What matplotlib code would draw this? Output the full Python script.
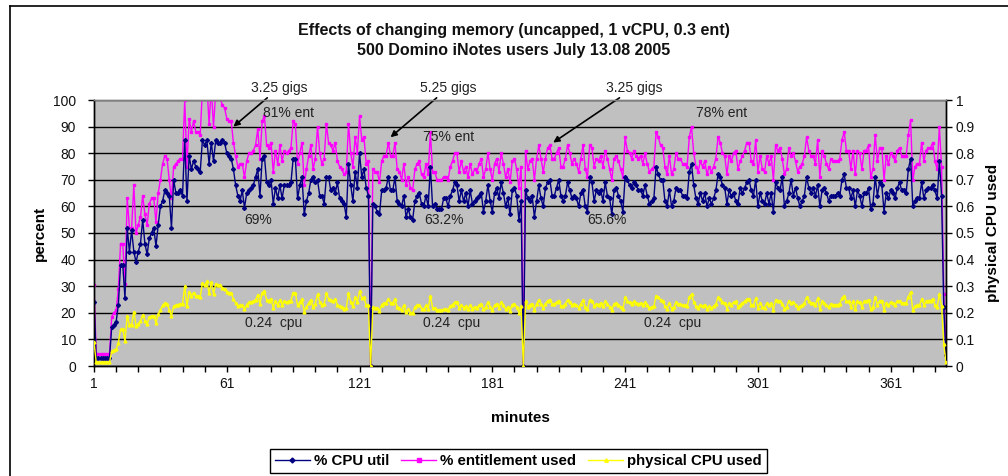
import matplotlib
matplotlib.use("Agg")
import matplotlib.pyplot as plt
from matplotlib.lines import Line2D
import numpy as np

plt.rcParams['font.family'] = ['Liberation Sans', 'DejaVu Sans']

# ---------------- data ----------------
cpu_util = [
    24, 3, 3, 3, 3, 3, 3, 3, 14.5, 15.5,
    16.5, 23, 38, 38, 25.5, 52, 43, 51, 43, 39,
    43, 46, 55, 46, 42, 48, 50, 52, 45, 53,
    60, 62, 66, 65, 64, 52, 70, 65, 65, 66,
    64, 85, 62, 79, 74, 77, 75, 74, 73, 85,
    83, 85, 76, 84, 77, 85, 84, 84, 85, 84,
    80, 79, 78, 74, 68, 64, 62, 66, 59.5, 65,
    66, 67, 68, 71, 74, 64, 78, 79, 69, 68,
    70, 61, 67, 63, 68, 63, 68, 68, 68, 69,
    78, 78, 63, 68, 71, 57, 62, 65, 70,
    # minutes 100-125
    71, 69, 70, 64, 64, 61, 71, 71, 66, 67,
    65, 69, 63, 62, 61, 56, 76, 68, 62, 73,
    67, 80, 71, 74, 67, 64,
    # minute 126 (memory change)
    0,
    # minutes 127-137
    61, 60, 58, 57, 66, 66, 67, 71, 66, 66, 71,
    # minutes 138-194
    62, 61, 60, 64, 56, 59, 56, 55, 62, 64,
    65, 61, 60, 64, 60, 75, 60, 61, 59, 59,
    59, 63, 63, 60, 64, 66, 69, 68, 62, 66,
    62, 65, 60, 66, 61, 62, 63, 64, 65, 58,
    62, 68, 62, 58, 65, 67, 63, 69, 65, 60,
    63, 57, 66, 67, 64, 55, 62,
    # minute 195 (memory change)
    0,
    # minutes 196-289
    66, 63, 62, 64, 56, 62, 68, 63, 60, 67,
    69, 70, 64, 64, 67, 70, 64, 62, 64, 69,
    66, 63, 64, 63, 60, 65, 66, 60, 58, 71,
    69, 62, 66, 65, 66, 62, 69, 64, 63, 57,
    66, 67, 64, 62, 58, 71, 70, 68, 67, 69,
    68, 66, 66, 64, 68, 64, 61, 62, 63, 75,
    72, 70, 70, 62, 60, 66, 60, 62, 67, 66,
    66, 64, 64, 63, 73, 76, 68, 63, 61, 65,
    62, 65, 60, 63, 61, 63, 66, 72, 71, 68,
    67, 61, 66, 64,
    # minutes 290-384
    65, 62, 61, 67, 65, 67, 69, 70, 66, 64,
    70, 60, 65, 62, 61, 65, 61, 65, 58, 69,
    67, 66, 71, 60, 62, 65, 70, 64, 67, 63,
    60, 62, 64, 71, 67, 65, 67, 64, 68, 60,
    66, 67, 65, 62, 64, 64, 64, 65, 64, 70,
    72, 67, 67, 63, 66, 60, 66, 64, 60, 65,
    65, 67, 59, 61, 71, 64, 69, 68, 58, 65,
    63, 66, 65, 63, 67, 69, 66, 66, 65, 74,
    78, 60, 62, 63, 63, 69, 63, 66, 67, 67,
    68, 66, 63, 77, 64,
    # minutes 385-386
    22, 4,
]

entitlement_used = [
    30.5, 4.5, 4.5, 4.5, 4.5, 4.5, 4.5, 4.5, 18.5, 20,
    21, 29, 46, 46, 31, 63, 52, 52, 68, 50,
    53, 56, 64, 57, 53, 61, 63, 63, 54, 65,
    70, 76, 79, 78, 70, 63, 75, 76, 77, 78,
    78, 100, 75, 93, 88, 92, 88, 88, 87, 104,
    101, 106, 91, 105, 90, 103, 102, 101, 98, 97,
    93, 92, 92, 84, 79, 75, 76, 76, 71, 77,
    80, 80, 81, 83, 89, 78, 92, 94, 83, 82,
    84, 73, 81, 76, 83, 77, 81, 80, 81, 82,
    92, 91, 76, 80, 84, 68, 74, 79, 83,
    # minutes 100-125
    74, 78, 90, 80, 76, 78, 91, 84, 83, 81,
    84, 77, 75, 74, 72, 73, 91, 80, 75, 86,
    80, 94, 85, 86, 76, 77,
    # minute 126
    0,
    # minutes 127-137
    74, 73, 73, 69, 77, 79, 79, 84, 79, 79, 84,
    # minutes 138-194
    74, 73, 70, 76, 68, 71, 67, 66, 74, 76,
    77, 72, 71, 76, 72, 88, 73, 73, 70, 70,
    70, 71, 71, 70, 75, 77, 80, 80, 73, 77,
    73, 75, 71, 76, 72, 74, 73, 76, 78, 71,
    74, 80, 74, 70, 76, 78, 73, 80, 76, 71,
    74, 69, 77, 78, 74, 67, 75,
    # minute 195
    0,
    # minutes 196-289
    81, 74, 77, 78, 70, 78, 83, 78, 73, 78,
    82, 83, 78, 78, 80, 82, 75, 75, 78, 83,
    80, 76, 78, 76, 73, 78, 83, 74, 71, 83,
    82, 75, 78, 77, 79, 75, 81, 78, 74, 70,
    78, 79, 77, 74, 71, 86, 81, 80, 78, 81,
    79, 78, 79, 76, 80, 76, 73, 74, 75, 88,
    86, 83, 82, 75, 72, 79, 72, 74, 80, 78,
    78, 76, 76, 75, 86, 90, 80, 75, 73, 77,
    75, 77, 72, 75, 73, 75, 78, 86, 84, 80,
    79, 72, 79, 77,
    # minutes 290-384
    80, 81, 74, 77, 79, 81, 84, 84, 77, 76,
    85, 73, 79, 74, 73, 79, 76, 79, 70, 83,
    81, 82, 78, 72, 74, 82, 79, 80, 77, 73,
    75, 76, 79, 86, 81, 79, 79, 76, 85, 71,
    81, 79, 76, 74, 78, 77, 77, 77, 78, 85,
    88, 81, 81, 74, 81, 72, 81, 80, 74, 81,
    81, 83, 71, 74, 87, 77, 82, 82, 70, 79,
    76, 80, 79, 77, 81, 82, 79, 79, 79, 87,
    92.5, 70, 75, 76, 76, 84, 77, 81, 82, 82,
    84, 77, 74, 90, 75,
    # minutes 385-386
    27, 5,
]

ENTITLEMENT = 0.3  # processing units entitled (0.3 ent)
physical_cpu_used = [round(v * ENTITLEMENT / 100, 4) for v in entitlement_used]

minutes = list(range(1, len(cpu_util) + 1))

x_tick_labels = ['1', '61', '121', '181', '241', '301', '361']
series_names = ['% CPU util', '% entitlement used', 'physical CPU used']

# ---------------- figure ----------------
W, H = 1008, 476
fig = plt.figure(figsize=(W / 100, H / 100), dpi=100)
fig.patch.set_facecolor('white')

def fx(px):
    return px / W

def fy(py):
    return 1 - py / H

# outer chart border
fig.add_artist(plt.Line2D([fx(10), fx(10)], [fy(6), fy(480)], color='black', lw=1.2))
fig.add_artist(plt.Line2D([fx(10), fx(1010)], [fy(6), fy(6)], color='black', lw=1.2))

ax = fig.add_axes([fx(94), fy(366), fx(946) - fx(94), fy(100) - fy(366)])
ax.set_facecolor('#C0C0C0')
ax2 = ax.twinx()

navy = '#000080'
mag = '#FF00FF'
yel = '#FFFF00'

ax.plot(minutes, cpu_util, color=navy, lw=1.0, marker='D', ms=2.0,
        mec=navy, mfc=navy, zorder=3)
ax.plot(minutes, entitlement_used, color=mag, lw=1.0, marker='s', ms=1.8,
        mec=mag, mfc=mag, zorder=2)
ax2.plot(minutes, physical_cpu_used, color=yel, lw=1.0, marker='^', ms=2.0,
         mec=yel, mfc=yel, zorder=3)

ax.set_xlim(1, len(minutes))
ax.set_ylim(0, 100)
ax2.set_ylim(0, 1)

ax.set_yticks(np.arange(0, 101, 10))
ax.set_yticklabels([str(v) for v in range(0, 101, 10)])
ax2.set_yticks(np.round(np.arange(0, 1.01, 0.1), 1))
ax2.set_yticklabels(['0', '0.1', '0.2', '0.3', '0.4', '0.5', '0.6', '0.7', '0.8', '0.9', '1'])

xt = list(range(1, len(minutes) + 1, 10))
ax.set_xticks(xt)
ax.set_xticklabels([str(t) if str(t) in x_tick_labels else '' for t in xt])

ax.yaxis.grid(True, color='black', lw=1.0)
ax.set_axisbelow(True)

for a in (ax, ax2):
    a.tick_params(axis='both', direction='out', length=4, width=1, color='black',
                  labelsize=10, labelcolor='#111111')
    for s in a.spines.values():
        s.set_color('black')
        s.set_linewidth(1.0)
ax.spines['top'].set_color('#808080')
ax2.spines['top'].set_color('#808080')
ax.tick_params(axis='x', pad=4)
ax.tick_params(axis='y', pad=9)
ax2.tick_params(axis='y', pad=3)

ax.set_xlabel('minutes', fontsize=11, fontweight='bold', labelpad=14)
ax.set_ylabel('percent', fontsize=11, fontweight='bold', labelpad=4.5)
ax2.set_ylabel('physical CPU used', fontsize=11, fontweight='bold', labelpad=8)

# title
fig.text(fx(514), fy(30), 'Effects of changing memory (uncapped, 1 vCPU, 0.3 ent)',
         ha='center', va='center', fontsize=11.5, fontweight='bold', color='#111111')
fig.text(fx(514), fy(51), '500 Domino iNotes users July 13.08 2005',
         ha='center', va='center', fontsize=11.5, fontweight='bold', color='#111111')

# annotations (data coordinates of the left axis)
tc = '#222222'
ann = dict(fontsize=10, color=tc, ha='center', va='center', annotation_clip=False)
arrow = dict(arrowstyle='-|>', color='black', lw=1.2, mutation_scale=9, shrinkA=0, shrinkB=0)
ax.annotate('3.25 gigs', xy=(64, 90), xytext=(84.5, 104.5), arrowprops=arrow, **ann)
ax.annotate('5.25 gigs', xy=(135, 86), xytext=(161, 104.5), arrowprops=arrow, **ann)
ax.annotate('3.25 gigs', xy=(208.5, 84), xytext=(245, 104.5), arrowprops=arrow, **ann)

ax.text(89, 95, '81% ent', fontsize=10, color=tc, ha='center', va='center')
ax.text(161, 86, '75% ent', fontsize=10, color=tc, ha='center', va='center')
ax.text(284.5, 95, '78% ent', fontsize=10, color=tc, ha='center', va='center')
ax.text(75, 55, '69%', fontsize=10, color=tc, ha='center', va='center')
ax.text(159, 55, '63.2%', fontsize=10, color=tc, ha='center', va='center')
ax.text(233, 55, '65.6%', fontsize=10, color=tc, ha='center', va='center')
ax.text(82, 16, '0.24  cpu', fontsize=10, color=tc, ha='center', va='center')
ax.text(162.5, 16, '0.24  cpu', fontsize=10, color=tc, ha='center', va='center')
ax.text(262.5, 16, '0.24  cpu', fontsize=10, color=tc, ha='center', va='center')

# legend
h1 = Line2D([], [], color=navy, lw=1.0, marker='D', ms=2.5, mfc=navy, mec=navy)
h2 = Line2D([], [], color=mag, lw=1.0, marker='s', ms=2.5, mfc=mag, mec=mag)
h3 = Line2D([], [], color=yel, lw=1.0, marker='^', ms=2.5, mfc=yel, mec=yel)
leg = fig.legend([h1, h2, h3], series_names,
                 loc='center', bbox_to_anchor=(fx(518.5), fy(461)), ncol=3,
                 frameon=True, fancybox=False, edgecolor='black', framealpha=1,
                 prop={'size': 10.8, 'weight': 'bold'}, handlelength=2.3,
                 handletextpad=0.3, columnspacing=0.8, borderpad=0.35,
                 borderaxespad=0)
leg.get_frame().set_linewidth(1.0)

fig.savefig('out.png', dpi=100, facecolor='white')
